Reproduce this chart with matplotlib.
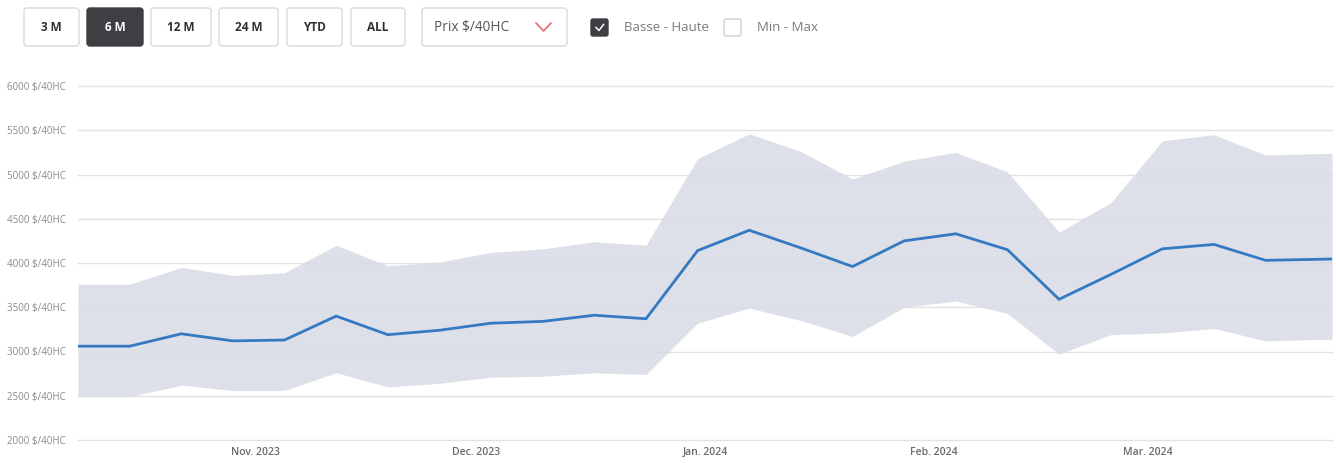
import matplotlib
matplotlib.use("Agg")
import matplotlib.pyplot as plt
from matplotlib.patches import FancyBboxPatch
import pandas as pd

plt.rcParams['font.family'] = ['Open Sans', 'DejaVu Sans']

# ---- data ----
dates = list(pd.date_range("2023-10-08", periods=24, freq="7D")) + [pd.Timestamp("2024-03-26")]
price = [3060, 3060, 3200, 3120, 3130, 3400, 3190, 3240, 3320, 3340, 3410, 3370,
         4140, 4370, 4170, 3960, 4250, 4330, 4150, 3590, 3870, 4160, 4210, 4030, 4045]
high = [3760, 3760, 3950, 3860, 3890, 4200, 3970, 4010, 4120, 4160, 4240, 4200,
        5180, 5460, 5260, 4950, 5150, 5250, 5030, 4350, 4680, 5380, 5450, 5220, 5240]
low = [2490, 2490, 2620, 2560, 2560, 2760, 2600, 2640, 2710, 2720, 2760, 2740,
       3320, 3490, 3350, 3170, 3500, 3570, 3430, 2970, 3190, 3210, 3260, 3120, 3140]
y_ticks = [2000, 2500, 3000, 3500, 4000, 4500, 5000, 5500, 6000]
y_labels = [f"{v} $/40HC" for v in y_ticks]
month_ticks = [pd.Timestamp(d) for d in ["2023-11-01", "2023-12-01", "2024-01-01", "2024-02-01", "2024-03-01"]]
month_labels = ["Nov. 2023", "Dec. 2023", "Jan. 2024", "Feb. 2024", "Mar. 2024"]
buttons = ["3 M", "6 M", "12 M", "24 M", "YTD", "ALL"]
active_button = "6 M"
dropdown_label = "Prix $/40HC"
checks = [("Basse - Haute", True), ("Min - Max", False)]

W, H = 1336, 463
fig = plt.figure(figsize=(W / 100, H / 100), dpi=100)
fig.patch.set_facecolor("white")

# ---- main chart ----
ax = fig.add_axes([78 / W, 23 / H, 1254 / W, 354 / H])
ax.set_axisbelow(True)
ax.fill_between(dates, low, high, color="#dadce6", alpha=0.88, linewidth=0, zorder=1)
ax.plot(dates, price, color="#3479c1", linewidth=2.0, zorder=3, solid_joinstyle="miter")
ax.set_xlim(dates[0], dates[-1])
ax.set_ylim(2000, 6000)
ax.set_yticks(y_ticks)
ax.set_yticklabels(y_labels)
ax.set_xticks(month_ticks)
ax.set_xticklabels(month_labels)
ax.yaxis.grid(True, color="#e2e2e2", linewidth=1.0)
ax.xaxis.grid(False)
for gl in ax.get_ygridlines():
    gl.set_clip_on(False)
for s in ax.spines.values():
    s.set_visible(False)
ax.tick_params(axis="y", length=0, pad=9, labelsize=7, labelcolor="#8a8a8a")
ax.tick_params(axis="x", length=0, pad=5, labelsize=7.5, labelcolor="#6a6a6a")
for t in ax.get_xticklabels():
    t.set_fontweight(600)
ax.set_facecolor("white")

# ---- top controls (overlay in pixel coordinates) ----
ov = fig.add_axes([0, 0, 1, 1])
ov.set_xlim(0, W)
ov.set_ylim(H, 0)
ov.axis("off")
ov.patch.set_alpha(0)

btn_x = [(24, 79), (87, 143), (151, 211), (219, 278), (287, 342), (351, 405)]
for lab, (x0, x1) in zip(buttons, btn_x):
    active = lab == active_button
    ov.add_patch(FancyBboxPatch((x0, 8), x1 - x0, 38,
                                boxstyle="round,pad=0,rounding_size=3",
                                facecolor="#3d3f42" if active else "white",
                                edgecolor="#3d3f42" if active else "#d9d9d9",
                                linewidth=1.0))
    ov.text((x0 + x1) / 2, 27.5, lab, ha="center", va="center", fontsize=8.5,
            fontweight="bold", color="white" if active else "#2f2f2f")

# dropdown
ov.add_patch(FancyBboxPatch((422, 8), 145, 38, boxstyle="round,pad=0,rounding_size=3",
                            facecolor="white", edgecolor="#d9d9d9", linewidth=1.0))
ov.text(434, 27.5, dropdown_label, ha="left", va="center", fontsize=9.8, color="#555555")
ov.plot([536, 543.5, 551], [23, 31, 23], color="#e5747a", linewidth=1.3, solid_capstyle="round")

# checkboxes
chk_x = [(591, 624), (724, 757)]
for (lab, on), (bx, tx) in zip(checks, chk_x):
    ov.add_patch(FancyBboxPatch((bx, 19), 17, 17, boxstyle="round,pad=0,rounding_size=2",
                                facecolor="#3d3f42" if on else "white",
                                edgecolor="#3d3f42" if on else "#d0d0d0", linewidth=1.0))
    if on:
        ov.plot([bx + 5, bx + 8, bx + 12.5], [27.5, 30.5, 24.5], color="white", linewidth=1.1)
    ov.text(tx, 27.5, lab, ha="left", va="center", fontsize=9.5, color="#7a7a7a")

fig.savefig("out.png", dpi=100, facecolor="white")
